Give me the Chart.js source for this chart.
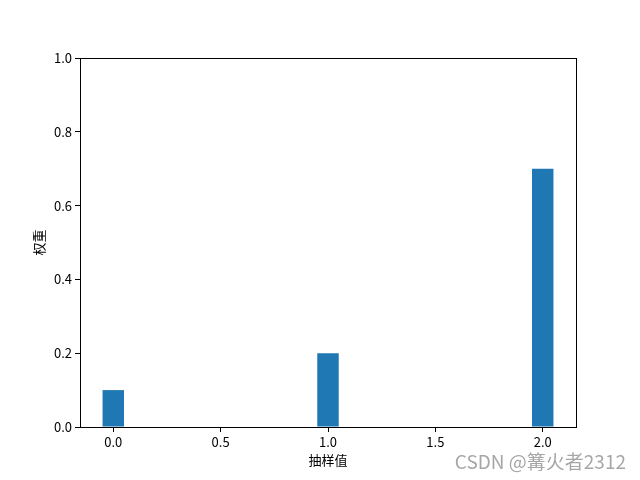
<!DOCTYPE html>
<html>
<head>
<meta charset="utf-8">
<script src="https://cdn.jsdelivr.net/npm/chart.js@4.4.1/dist/chart.umd.min.js"></script>
<style>
  html, body { margin: 0; padding: 0; background: #fff; }
  #wrap { width: 640px; height: 480px; }
</style>
</head>
<body>
<div id="wrap"><canvas id="chart" width="640" height="480"></canvas></div>
<script>
// sample values and their weights
const samples = [0, 1, 2];
const weights = [0.1, 0.2, 0.7];
const xTicks = [0, 0.5, 1, 1.5, 2];
const yTicks = [0, 0.2, 0.4, 0.6, 0.8, 1.0];

const FONT = '"Noto Sans CJK SC", "DejaVu Sans", sans-serif';

// axes frame (matplotlib style spines) + watermark
const framePlugin = {
    id: 'frame',
    afterDraw(chart) {
        const { ctx, chartArea: a } = chart;
        ctx.save();
        ctx.strokeStyle = '#000';
        ctx.lineWidth = 1;
        ctx.strokeRect(a.left + 0.5, a.top + 0.5, a.right - a.left, a.bottom - a.top);
        ctx.font = '19px ' + FONT;
        ctx.fillStyle = 'rgba(150,150,150,0.85)';
        ctx.textAlign = 'right';
        ctx.textBaseline = 'alphabetic';
        ctx.fillText('CSDN @篝火者2312', 626, 469);
        ctx.restore();
    }
};

const ctx = document.getElementById('chart').getContext('2d');
new Chart(ctx, {
    type: 'bar',
    data: {
        datasets: [{
            data: samples.map((s, i) => ({ x: s, y: weights[i] })),
            backgroundColor: '#1f77b4',
            borderWidth: 0,
            barPercentage: 0.2,
            categoryPercentage: 1.0
        }]
    },
    plugins: [framePlugin],
    options: {
        responsive: false,
        animation: false,
        layout: { padding: { top: 58, right: 64, left: 27, bottom: 8 } },
        plugins: { legend: { display: false }, tooltip: { enabled: false } },
        scales: {
            x: {
                type: 'linear',
                offset: false,
                min: -0.155,
                max: 2.155,
                afterBuildTicks: s => { s.ticks = xTicks.map(v => ({ value: v })); },
                afterFit: s => { s.height = 45; },
                grid: { display: true, drawOnChartArea: false, drawTicks: true, tickLength: 5, tickColor: '#000', offset: false },
                border: { display: true, color: '#000' },
                ticks: {
                    color: '#000',
                    font: { family: FONT, size: 13 },
                    padding: 2,
                    maxRotation: 0,
                    callback: v => v.toFixed(1)
                },
                title: { display: true, text: '抽样值', color: '#000', font: { family: FONT, size: 13 }, padding: { top: 0 } }
            },
            y: {
                min: 0,
                max: 1,
                afterBuildTicks: s => { s.ticks = yTicks.map(v => ({ value: v })); },
                afterFit: s => { s.width = 53; },
                grid: { display: true, drawOnChartArea: false, drawTicks: true, tickLength: 5, tickColor: '#000' },
                border: { display: true, color: '#000' },
                ticks: {
                    color: '#000',
                    font: { family: FONT, size: 13 },
                    padding: 3,
                    callback: v => v.toFixed(1)
                },
                title: { display: true, text: '权重', color: '#000', font: { family: FONT, size: 13 }, padding: { bottom: 0 } }
            }
        }
    }
});
</script>
</body>
</html>
